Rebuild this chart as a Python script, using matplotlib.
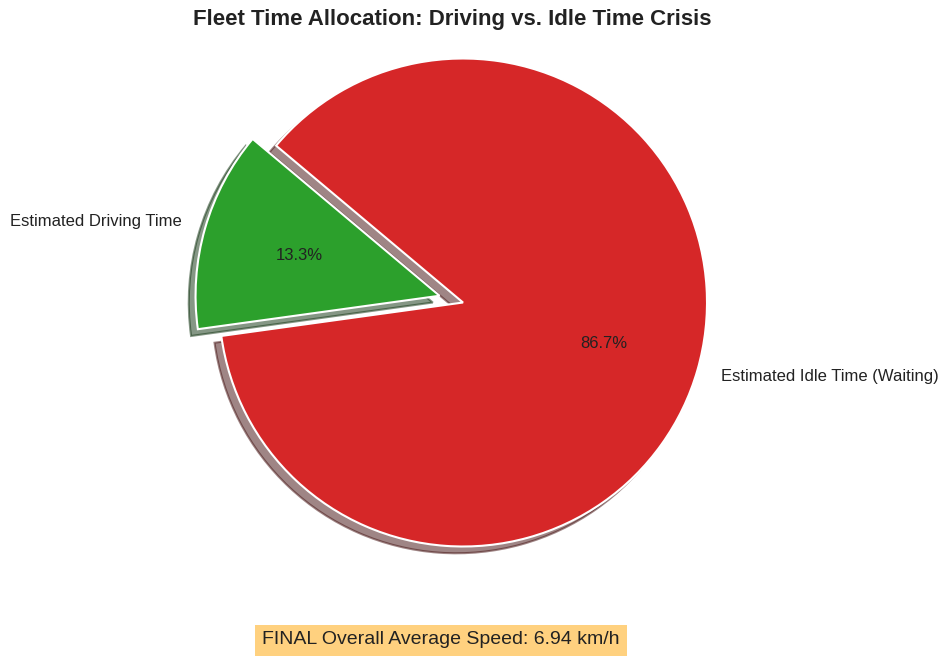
import matplotlib.pyplot as plt

plt.rcParams['font.family'] = ['Liberation Sans', 'DejaVu Sans']

labels = ['Estimated Driving Time', 'Estimated Idle Time (Waiting)']
hours = [13.3, 86.7]
colors = ['#2ca02c', '#d62728']
explode = [0.1, 0]
avg_speed = 6.94

fig = plt.figure(figsize=(9.5, 6.57), dpi=100)
ax = fig.add_axes([0, 0, 1, 1])

ax.pie(hours, labels=labels, colors=colors, explode=explode,
       autopct='%1.1f%%', startangle=140, shadow=True,
       wedgeprops=dict(edgecolor='white', linewidth=1.5),
       textprops=dict(fontsize=12, color='#222222'))

# pixel layout: centre (463, 302.5), radius 244 px
r = 244
cx, cy = 463, 302.5
ax.set_xlim(-cx / r, (950 - cx) / r)
ax.set_ylim(-(657 - cy) / r, cy / r)
ax.set_aspect('auto')
ax.axis('off')

fig.text(0.476, 1 - 19 / 657, 'Fleet Time Allocation: Driving vs. Idle Time Crisis',
         ha='center', va='center', fontsize=16, fontweight='bold', color='#222222')

fig.text(0.464, 1 - 640 / 657, f'FINAL Overall Average Speed: {avg_speed} km/h',
         ha='center', va='center', fontsize=14, color='#222222',
         bbox=dict(facecolor='orange', alpha=0.5, edgecolor='none', pad=5))

fig.savefig('out.png', dpi=100, facecolor='white')
